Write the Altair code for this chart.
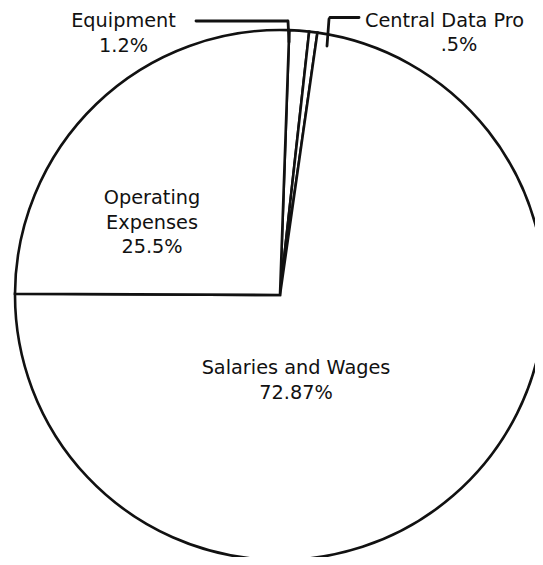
import math
import altair as alt
import pandas as pd

# ---- data ----
categories = ["Equipment", "Central Data Pro", "Salaries and Wages", "Operating Expenses"]
shares = [1.2, 0.5, 72.87, 25.5]
share_labels = ["1.2%", ".5%", "72.87%", "25.5%"]
name_lines = [["Equipment"], ["Central Data Pro"], ["Salaries and Wages"], ["Operating", "Expenses"]]

df = pd.DataFrame({
    "category": categories,
    "share": shares,
    "label": share_labels,
    "order": list(range(len(categories))),
})
df["name"] = ["\n".join(n) for n in name_lines]
df["text"] = ["\n".join(n + [l]) for n, l in zip(name_lines, share_labels)]

# ---- layout (page pixel coords minus the 8px page margin) ----
OX, OY = 8, 8
W, H = 527, 549
CX, CY, R = 280 - OX, 295 - OY, 265
ROT = math.radians(2)
INK = "#111111"
FONT = "DejaVu Sans"
FS = 19.3
LH = 24.5

base = alt.Chart(df)

pie = base.mark_arc(fill="white", stroke=INK, strokeWidth=2.6, radius=R, clip=True).encode(
    theta=alt.Theta("share:Q", stack=True, scale=alt.Scale(range=[ROT, ROT + 2 * math.pi])),
    order=alt.Order("order:Q"),
    x=alt.value(CX),
    y=alt.value(CY),
)


def label(cat, x, y, field="text", align="center"):
    return base.transform_filter(alt.datum.category == cat).mark_text(
        font=FONT, fontSize=FS, lineHeight=LH, lineBreak="\n",
        align=align, baseline="alphabetic", color=INK,
    ).encode(x=alt.value(x - OX), y=alt.value(y - OY), text=f"{field}:N")


def leader(x1, y1, x2, y2):
    return base.transform_filter(alt.datum.order == 0).mark_rule(
        color=INK, strokeWidth=2.8, strokeCap="round"
    ).encode(
        x=alt.value(x1 - OX), y=alt.value(y1 - OY),
        x2=alt.value(x2 - OX), y2=alt.value(y2 - OY),
    )


layers = [
    pie,
    label("Equipment", 123.5, 27),
    label("Central Data Pro", 365, 27, field="name", align="left"),
    label("Central Data Pro", 459, 51, field="label"),
    label("Operating Expenses", 152, 204),
    label("Salaries and Wages", 296, 374),
    leader(196, 21, 287, 21),
    leader(288, 21, 289, 42),
    leader(327, 46, 329, 19),
    leader(330, 17.5, 359, 17.5),
]

chart = alt.layer(*layers).properties(
    width=W, height=H, padding=0, background="white",
).configure_view(stroke=None)

chart.save("out.html", embed_options={"renderer": "svg", "actions": False})
